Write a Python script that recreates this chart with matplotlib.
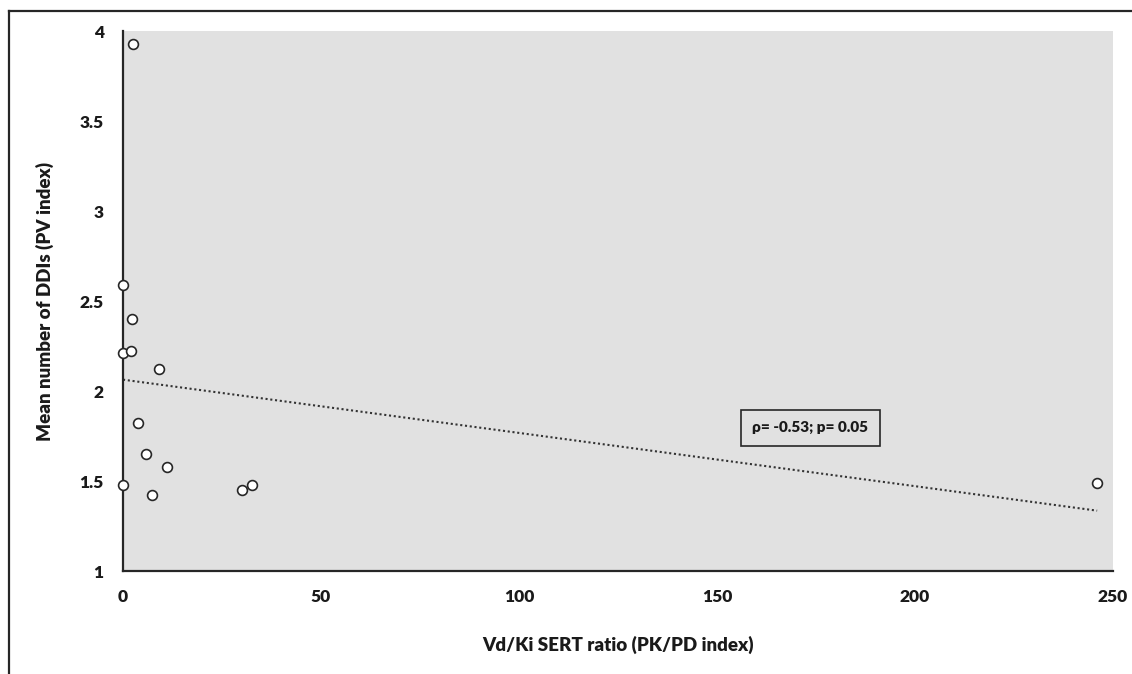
import numpy as np
import matplotlib.pyplot as plt
from matplotlib.lines import Line2D

plt.rcParams['font.family'] = ['Lato', 'DejaVu Sans']

# Vd/Ki SERT ratio (PK/PD index) vs mean number of DDIs (PV index)
vd_ki = [0, 2.2, 0, 2.0, 9.0, 3.8, 5.8, 11.2, 0, 7.4, 30.0, 32.6, 2.4, 246]
mean_ddis = [2.59, 2.40, 2.21, 2.22, 2.12, 1.82, 1.65, 1.58, 1.48, 1.42, 1.45, 1.48, 3.93, 1.49]

x_ticks = [0, 50, 100, 150, 200, 250]
y_ticks = [1, 1.5, 2, 2.5, 3, 3.5, 4]
y_tick_labels = ['1', '1.5', '2', '2.5', '3', '3.5', '4']
stats_text = 'ρ= -0.53; p= 0.05'

bg = '#e1e1e1'
dark = '#262626'

fig = plt.figure(figsize=(11.32, 6.74), dpi=100)
ax = fig.add_axes([0.1087, 0.1528, 0.8745, 0.8012])
ax.set_facecolor(bg)

# linear trendline over data range
slope, intercept = np.polyfit(vd_ki, mean_ddis, 1)
xs = np.array([min(vd_ki), max(vd_ki)])
ax.plot(xs, slope * xs + intercept, color='#333333', lw=1.5,
        linestyle=(0, (1, 1.3)), zorder=2)

ax.scatter(vd_ki, mean_ddis, s=50, facecolor='white', edgecolor=dark,
           linewidth=1.2, zorder=3, clip_on=False)

ax.set_xlim(0, 250)
ax.set_ylim(1, 4)
ax.set_xticks(x_ticks)
ax.set_yticks(y_ticks)
ax.set_yticklabels(y_tick_labels)
ax.tick_params(axis='both', length=0, labelsize=12.5, colors='#1a1a1a')
ax.tick_params(axis='y', pad=14)
ax.tick_params(axis='x', pad=13)
for lab in ax.get_xticklabels() + ax.get_yticklabels():
    lab.set_fontweight('heavy')

for side in ['top', 'right']:
    ax.spines[side].set_visible(False)
for side in ['left', 'bottom']:
    ax.spines[side].set_color(dark)
    ax.spines[side].set_linewidth(1.6)

ax.set_xlabel('Vd/Ki SERT ratio (PK/PD index)', fontsize=13.5,
              fontweight='heavy', labelpad=22, color='#1a1a1a')
ax.set_ylabel('Mean number of DDIs (PV index)', fontsize=13.5,
              fontweight='heavy', labelpad=18, color='#1a1a1a')

ax.text(0.694, 0.265, stats_text, transform=ax.transAxes, ha='center',
        va='center', fontsize=11, fontweight='heavy', color='#1a1a1a',
        bbox=dict(boxstyle='square,pad=0.75', facecolor=bg,
                  edgecolor=dark, linewidth=1.2))

# outer frame (left and top edges visible)
fig.add_artist(Line2D([9 / 1132, 9 / 1132], [0, 1 - 11 / 674],
                      transform=fig.transFigure, color=dark, lw=1.6))
fig.add_artist(Line2D([9 / 1132, 1], [1 - 11 / 674, 1 - 11 / 674],
                      transform=fig.transFigure, color=dark, lw=1.6))

fig.savefig('out.png', dpi=100)
